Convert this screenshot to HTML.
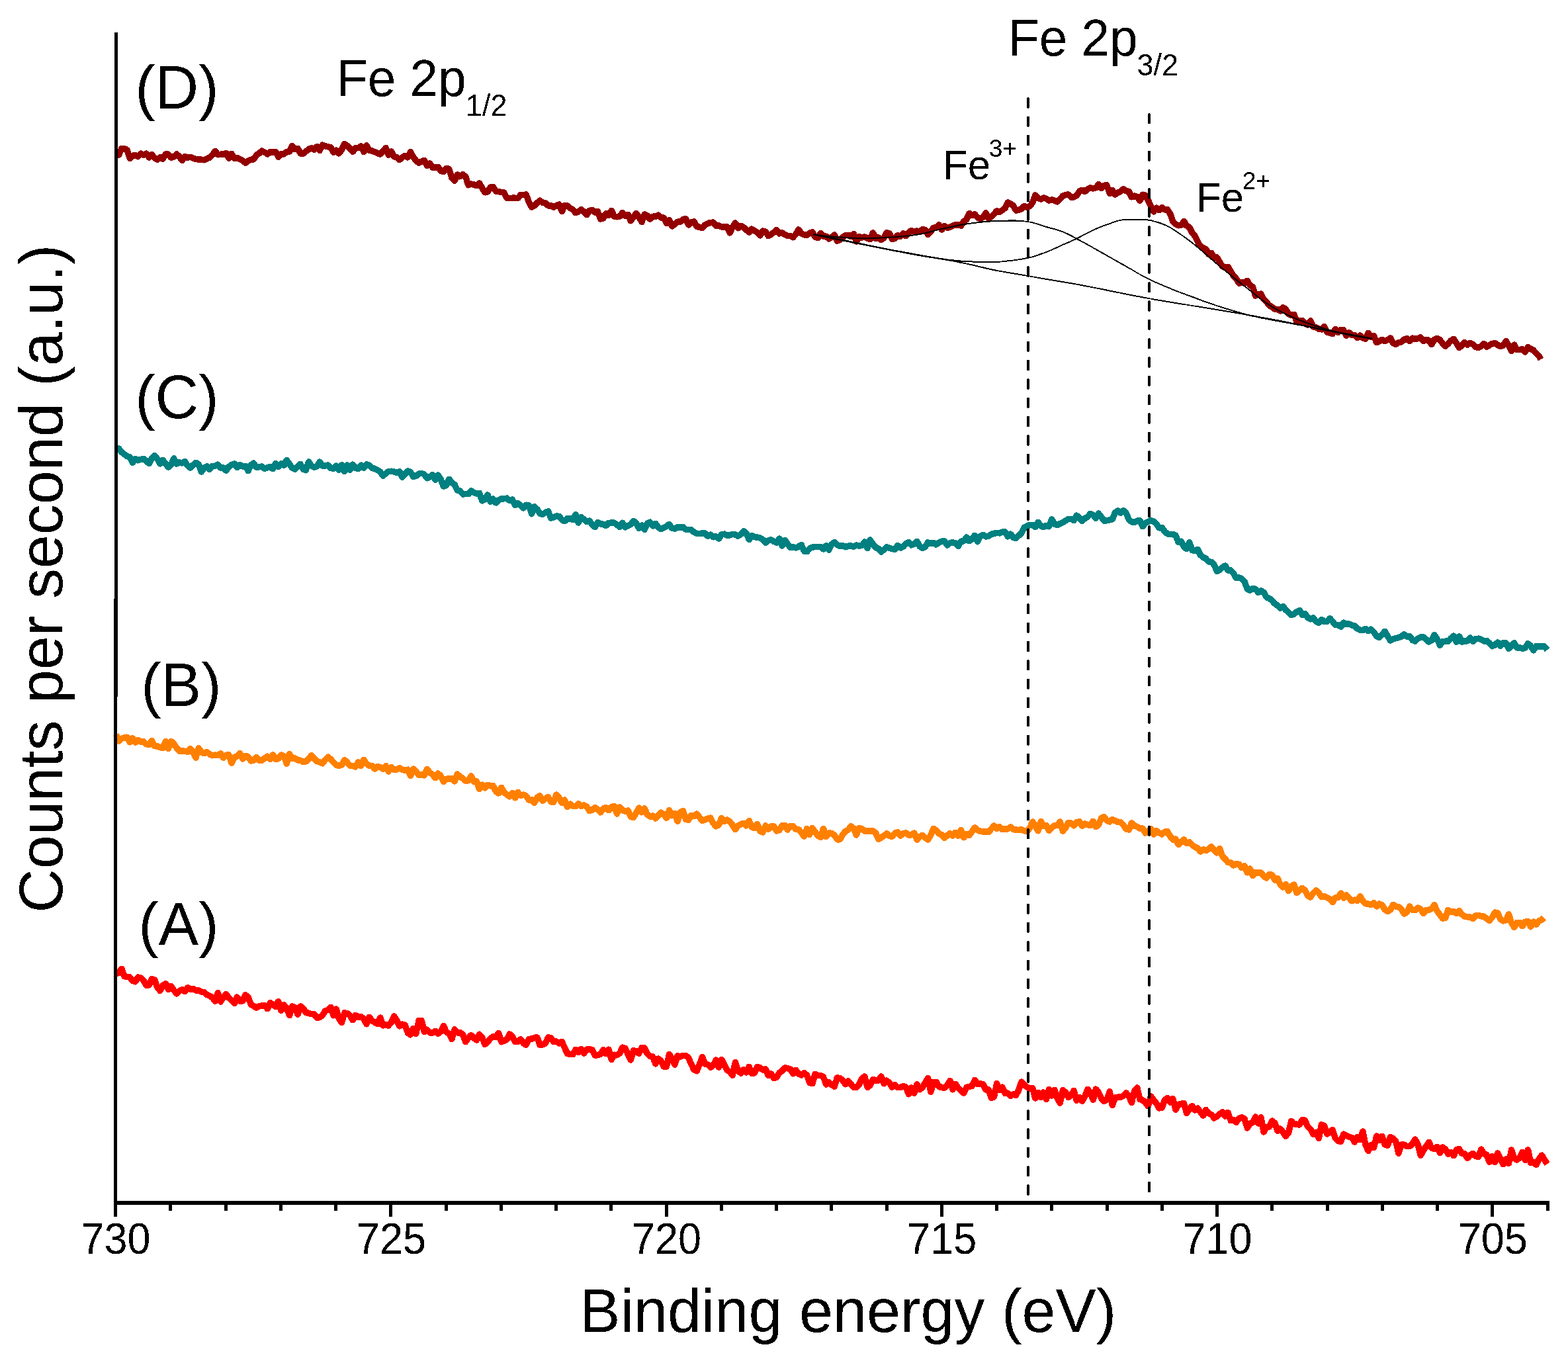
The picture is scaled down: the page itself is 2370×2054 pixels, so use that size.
<!DOCTYPE html>
<html lang="en">
<head>
<meta charset="utf-8">
<title>Fe 2p XPS spectra</title>
<style>
html,body{margin:0;padding:0;background:#fff;}
body{width:2370px;height:2054px;overflow:hidden;}
svg{display:block;}
text{font-family:"Liberation Sans",Arial,Helvetica,sans-serif;fill:#000;}
</style>
</head>
<body>
<svg width="2370" height="2054" viewBox="0 0 2370 2054" role="img" aria-label="Fe 2p XPS spectra">
<rect x="0" y="0" width="2370" height="2054" fill="#ffffff"/>
<defs><filter id="crisp" x="0" y="0" width="2370" height="2054" filterUnits="userSpaceOnUse" color-interpolation-filters="sRGB"><feComponentTransfer><feFuncA type="discrete" tableValues="0 1"/></feComponentTransfer></filter></defs>
<g filter="url(#crisp)">
<g id="curves">
<polyline points="175.4,1472.0 179.6,1470.1 183.7,1464.2 187.9,1475.5 192.0,1476.4 196.2,1476.9 200.4,1482.5 204.5,1483.8 208.7,1477.1 212.8,1478.2 217.0,1482.1 221.2,1489.3 225.3,1488.8 229.5,1479.4 233.6,1480.9 237.8,1492.2 242.0,1497.4 246.1,1489.4 250.3,1486.6 254.4,1495.5 258.6,1490.6 262.8,1496.5 266.9,1501.9 271.1,1497.9 275.2,1495.5 279.4,1498.6 283.6,1492.8 287.7,1495.0 291.9,1494.4 296.0,1496.9 300.2,1496.8 304.4,1499.2 308.5,1499.8 312.7,1503.4 316.8,1504.9 321.0,1507.9 325.2,1513.2 329.3,1500.6 333.5,1513.9 337.6,1507.6 341.8,1502.5 346.0,1508.4 350.1,1511.9 354.3,1516.5 358.4,1507.0 362.6,1513.0 366.8,1512.7 370.9,1503.7 375.1,1507.0 379.2,1517.9 383.4,1520.6 387.6,1523.0 391.7,1520.8 395.9,1520.0 400.0,1519.8 404.2,1524.8 408.4,1515.3 412.5,1518.8 416.7,1521.5 420.8,1513.5 425.0,1527.4 429.2,1518.8 433.3,1523.5 437.5,1534.8 441.6,1520.8 445.8,1522.5 450.0,1533.2 454.1,1520.9 458.3,1524.0 462.4,1530.3 466.6,1531.4 470.8,1532.6 474.9,1532.7 479.1,1538.4 483.2,1537.6 487.4,1534.7 491.6,1527.8 495.7,1526.5 499.9,1522.2 504.0,1534.8 508.2,1525.0 512.4,1539.8 516.5,1545.7 520.7,1530.8 524.8,1531.7 529.0,1534.7 533.2,1541.7 537.3,1534.2 541.5,1537.5 545.6,1536.7 549.8,1539.7 554.0,1547.8 558.1,1537.4 562.3,1542.4 566.4,1545.2 570.6,1547.7 574.8,1538.1 578.9,1550.0 583.1,1548.5 587.2,1550.3 591.4,1545.2 595.6,1535.9 599.7,1541.9 603.9,1550.9 608.0,1548.1 612.2,1549.2 616.4,1561.0 620.5,1563.8 624.7,1554.3 628.8,1562.6 633.0,1542.5 637.2,1542.5 641.3,1559.4 645.5,1556.3 649.6,1560.8 653.8,1561.1 658.0,1558.4 662.1,1562.4 666.3,1559.0 670.4,1550.5 674.6,1559.8 678.8,1562.5 682.9,1570.4 687.1,1555.8 691.2,1560.8 695.4,1560.2 699.6,1563.9 703.7,1574.7 707.9,1569.0 712.0,1564.5 716.2,1568.7 720.4,1572.1 724.5,1563.1 728.7,1567.7 732.8,1578.5 737.0,1575.3 741.2,1569.4 745.3,1566.6 749.5,1567.3 753.6,1561.3 757.8,1574.7 762.0,1573.1 766.1,1570.8 770.3,1562.9 774.4,1566.7 778.6,1574.7 782.8,1574.0 786.9,1570.6 791.1,1576.7 795.2,1579.3 799.4,1570.4 803.6,1570.1 807.7,1568.2 811.9,1567.9 816.0,1579.3 820.2,1579.0 824.4,1576.8 828.5,1568.0 832.7,1568.6 836.8,1574.5 841.0,1574.0 845.2,1576.9 849.3,1574.3 853.5,1583.7 857.6,1592.6 861.8,1593.3 866.0,1593.6 870.1,1586.3 874.3,1590.4 878.4,1585.2 882.6,1592.1 886.8,1586.2 890.9,1585.5 895.1,1586.6 899.2,1595.3 903.4,1594.6 907.6,1593.5 911.7,1586.8 915.9,1592.6 920.0,1586.2 924.2,1601.5 928.4,1594.2 932.5,1594.8 936.7,1592.1 940.8,1583.0 945.0,1584.2 949.2,1593.7 953.3,1602.0 957.5,1587.6 961.6,1588.8 965.8,1592.3 970.0,1583.3 974.1,1583.7 978.3,1592.6 982.4,1596.4 986.6,1596.9 990.8,1607.9 994.9,1600.0 999.1,1603.5 1003.2,1612.3 1007.4,1612.0 1011.6,1593.3 1015.7,1600.1 1019.9,1609.2 1024.0,1595.7 1028.2,1596.9 1032.4,1595.5 1036.5,1595.6 1040.7,1598.6 1044.8,1608.3 1049.0,1616.9 1053.2,1618.8 1057.3,1608.7 1061.5,1597.3 1065.6,1608.1 1069.8,1608.9 1074.0,1613.3 1078.1,1610.2 1082.3,1601.9 1086.4,1613.1 1090.6,1601.2 1094.8,1609.3 1098.9,1617.3 1103.1,1619.9 1107.2,1625.2 1111.4,1605.5 1115.6,1618.4 1119.7,1622.0 1123.9,1616.8 1128.0,1620.9 1132.2,1612.3 1136.4,1622.1 1140.5,1621.7 1144.7,1612.4 1148.8,1613.8 1153.0,1616.8 1157.2,1615.8 1161.3,1625.6 1165.5,1622.6 1169.6,1629.2 1173.8,1628.5 1178.0,1621.4 1182.1,1618.5 1186.3,1613.9 1190.4,1614.5 1194.6,1615.9 1198.8,1622.8 1202.9,1617.3 1207.1,1623.2 1211.2,1624.9 1215.4,1621.6 1219.6,1625.0 1223.7,1636.5 1227.9,1637.6 1232.0,1623.4 1236.2,1625.6 1240.4,1625.4 1244.5,1627.7 1248.7,1639.1 1252.8,1635.9 1257.0,1639.7 1261.2,1642.1 1265.3,1629.0 1269.5,1629.5 1273.6,1632.5 1277.8,1638.8 1282.0,1633.7 1286.1,1638.7 1290.3,1643.3 1294.4,1643.8 1298.6,1638.9 1302.8,1630.2 1306.9,1626.9 1311.1,1643.3 1315.2,1640.3 1319.4,1631.3 1323.6,1633.2 1327.7,1633.1 1331.9,1626.9 1336.0,1637.7 1340.2,1633.2 1344.4,1636.6 1348.5,1643.3 1352.7,1639.6 1356.8,1643.5 1361.0,1643.5 1365.2,1641.4 1369.3,1643.2 1373.5,1653.9 1377.6,1644.0 1381.8,1652.2 1386.0,1638.6 1390.1,1646.8 1394.3,1643.7 1398.4,1636.3 1402.6,1629.6 1406.8,1650.4 1410.9,1635.5 1415.1,1635.4 1419.2,1642.7 1423.4,1643.3 1427.6,1644.3 1431.7,1640.0 1435.9,1633.5 1440.0,1646.7 1444.2,1638.2 1448.4,1644.7 1452.5,1648.7 1456.7,1652.1 1460.8,1643.6 1465.0,1642.2 1469.2,1641.6 1473.3,1632.3 1477.5,1638.4 1481.6,1638.0 1485.8,1638.4 1490.0,1647.1 1494.1,1647.0 1498.3,1659.6 1502.4,1658.0 1506.6,1637.5 1510.8,1647.4 1514.9,1643.1 1519.1,1652.5 1523.2,1652.1 1527.4,1656.6 1531.6,1653.7 1535.7,1655.4 1539.9,1647.3 1544.0,1635.1 1548.2,1639.9 1552.4,1643.1 1556.5,1645.3 1560.7,1644.3 1564.8,1660.0 1569.0,1651.3 1573.2,1658.4 1577.3,1650.9 1581.5,1661.5 1585.6,1646.6 1589.8,1656.0 1594.0,1647.3 1598.1,1659.7 1602.3,1667.1 1606.4,1647.5 1610.6,1650.9 1614.8,1658.5 1618.9,1655.2 1623.1,1648.5 1627.2,1663.0 1631.4,1658.2 1635.6,1664.3 1639.7,1657.0 1643.9,1646.4 1648.0,1651.2 1652.2,1662.2 1656.4,1646.0 1660.5,1651.3 1664.7,1660.2 1668.8,1664.3 1673.0,1662.0 1677.2,1649.7 1681.3,1670.6 1685.5,1658.8 1689.6,1658.3 1693.8,1658.3 1698.0,1656.2 1702.1,1651.7 1706.3,1656.9 1710.4,1666.6 1714.6,1649.0 1718.8,1644.0 1722.9,1661.4 1727.1,1662.8 1731.2,1666.4 1735.4,1671.8 1739.6,1657.0 1743.7,1662.5 1747.9,1667.8 1752.0,1674.9 1756.2,1674.4 1760.4,1662.6 1764.5,1659.4 1768.7,1666.0 1772.8,1660.5 1777.0,1677.3 1781.2,1669.6 1785.3,1668.4 1789.5,1667.2 1793.6,1682.7 1797.8,1676.0 1802.0,1671.4 1806.1,1677.9 1810.3,1675.2 1814.4,1680.8 1818.6,1686.1 1822.8,1677.4 1826.9,1682.5 1831.1,1684.7 1835.2,1690.0 1839.4,1687.6 1843.6,1683.8 1847.7,1680.7 1851.9,1687.0 1856.0,1681.5 1860.2,1693.3 1864.4,1692.7 1868.5,1696.2 1872.7,1690.4 1876.8,1688.8 1881.0,1690.8 1885.2,1704.7 1889.3,1698.2 1893.5,1696.5 1897.6,1688.0 1901.8,1697.8 1906.0,1688.8 1910.1,1710.8 1914.3,1703.4 1918.4,1703.2 1922.6,1694.1 1926.8,1697.2 1930.9,1709.3 1935.1,1706.0 1939.2,1711.0 1943.4,1717.3 1947.6,1711.9 1951.7,1694.4 1955.9,1698.8 1960.0,1699.2 1964.2,1700.0 1968.4,1692.4 1972.5,1693.1 1976.7,1703.0 1980.8,1706.6 1985.0,1714.4 1989.2,1711.3 1993.3,1720.6 1997.5,1699.8 2001.6,1701.8 2005.8,1713.9 2010.0,1711.3 2014.1,1707.6 2018.3,1720.2 2022.4,1724.6 2026.6,1725.3 2030.8,1714.1 2034.9,1716.1 2039.1,1718.5 2043.2,1719.3 2047.4,1726.0 2051.6,1718.3 2055.7,1722.6 2059.9,1709.9 2064.0,1730.6 2068.2,1739.5 2072.4,1730.2 2076.5,1734.4 2080.7,1717.1 2084.8,1723.2 2089.0,1717.3 2093.2,1729.9 2097.3,1731.3 2101.5,1718.3 2105.6,1720.6 2109.8,1725.4 2114.0,1743.1 2118.1,1730.0 2122.3,1730.0 2126.4,1732.5 2130.6,1732.7 2134.8,1728.8 2138.9,1722.1 2143.1,1729.1 2147.2,1746.4 2151.4,1738.7 2155.6,1732.5 2159.7,1726.3 2163.9,1735.2 2168.0,1736.6 2172.2,1733.3 2176.4,1742.7 2180.5,1733.9 2184.7,1736.7 2188.8,1744.1 2193.0,1741.6 2197.2,1746.7 2201.3,1737.8 2205.5,1736.4 2209.6,1743.2 2213.8,1743.7 2218.0,1750.5 2222.1,1746.0 2226.3,1743.3 2230.4,1747.3 2234.6,1748.3 2238.8,1737.1 2242.9,1743.6 2247.1,1745.6 2251.2,1756.3 2255.4,1747.8 2259.6,1756.6 2263.7,1742.7 2267.9,1751.1 2272.0,1759.6 2276.2,1752.1 2280.4,1758.4 2284.5,1738.0 2288.7,1750.5 2292.8,1753.1 2297.0,1749.8 2301.2,1741.3 2305.3,1753.6 2309.5,1737.8 2313.6,1757.4 2317.8,1756.3 2322.0,1760.4 2326.1,1751.9 2330.3,1746.1 2334.4,1752.8 2338.6,1759.4" fill="none" stroke="#ff0000" stroke-width="9.5" stroke-linejoin="round" stroke-linecap="butt" />
<polyline points="175.4,1109.9 179.6,1120.0 183.7,1116.3 187.9,1115.0 192.0,1114.3 196.2,1121.8 200.4,1115.7 204.5,1122.0 208.7,1118.7 212.8,1121.0 217.0,1121.1 221.2,1124.9 225.3,1125.5 229.5,1119.4 233.6,1127.6 237.8,1127.9 242.0,1129.7 246.1,1130.6 250.3,1120.4 254.4,1131.7 258.6,1120.2 262.8,1124.0 266.9,1130.3 271.1,1135.0 275.2,1135.0 279.4,1135.2 283.6,1136.4 287.7,1131.4 291.9,1137.4 296.0,1145.4 300.2,1130.5 304.4,1136.9 308.5,1138.8 312.7,1136.5 316.8,1140.0 321.0,1141.8 325.2,1141.1 329.3,1141.6 333.5,1138.9 337.6,1145.3 341.8,1141.3 346.0,1140.9 350.1,1153.4 354.3,1144.3 358.4,1142.9 362.6,1138.4 366.8,1146.9 370.9,1142.3 375.1,1143.8 379.2,1150.0 383.4,1149.2 387.6,1144.4 391.7,1149.1 395.9,1149.0 400.0,1146.1 404.2,1143.1 408.4,1147.6 412.5,1140.9 416.7,1147.8 420.8,1146.5 425.0,1141.1 429.2,1142.9 433.3,1154.2 437.5,1139.4 441.6,1146.1 445.8,1145.9 450.0,1149.0 454.1,1149.2 458.3,1151.7 462.4,1150.9 466.6,1147.1 470.8,1141.6 474.9,1146.3 479.1,1150.6 483.2,1151.6 487.4,1153.8 491.6,1148.4 495.7,1144.2 499.9,1147.4 504.0,1152.2 508.2,1156.4 512.4,1157.5 516.5,1156.3 520.7,1148.7 524.8,1152.2 529.0,1157.2 533.2,1157.5 537.3,1159.0 541.5,1151.8 545.6,1157.5 549.8,1148.2 554.0,1154.3 558.1,1157.6 562.3,1157.2 566.4,1162.0 570.6,1158.6 574.8,1159.7 578.9,1162.3 583.1,1157.6 587.2,1166.1 591.4,1159.4 595.6,1163.7 599.7,1162.8 603.9,1160.7 608.0,1163.2 612.2,1164.5 616.4,1163.2 620.5,1172.6 624.7,1162.0 628.8,1165.9 633.0,1171.5 637.2,1170.5 641.3,1171.9 645.5,1162.5 649.6,1167.5 653.8,1170.8 658.0,1175.8 662.1,1168.9 666.3,1173.0 670.4,1181.6 674.6,1177.2 678.8,1177.2 682.9,1176.7 687.1,1180.9 691.2,1170.0 695.4,1173.7 699.6,1176.5 703.7,1180.3 707.9,1179.8 712.0,1172.8 716.2,1181.4 720.4,1181.0 724.5,1192.7 728.7,1186.1 732.8,1190.9 737.0,1186.2 741.2,1187.7 745.3,1187.6 749.5,1196.0 753.6,1198.9 757.8,1190.3 762.0,1197.7 766.1,1201.1 770.3,1203.9 774.4,1198.4 778.6,1205.8 782.8,1197.2 786.9,1202.4 791.1,1201.1 795.2,1202.9 799.4,1209.1 803.6,1208.5 807.7,1213.3 811.9,1205.4 816.0,1202.6 820.2,1210.1 824.4,1207.0 828.5,1204.6 832.7,1212.0 836.8,1212.3 841.0,1201.0 845.2,1205.9 849.3,1213.5 853.5,1209.1 857.6,1219.5 861.8,1215.3 866.0,1218.4 870.1,1218.5 874.3,1214.7 878.4,1218.3 882.6,1217.0 886.8,1219.0 890.9,1225.5 895.1,1224.2 899.2,1220.6 903.4,1223.1 907.6,1228.0 911.7,1222.0 915.9,1220.5 920.0,1224.7 924.2,1219.8 928.4,1218.3 932.5,1230.0 936.7,1220.0 940.8,1224.4 945.0,1226.3 949.2,1224.9 953.3,1234.5 957.5,1235.5 961.6,1228.6 965.8,1221.1 970.0,1227.8 974.1,1221.6 978.3,1231.2 982.4,1234.1 986.6,1233.1 990.8,1236.9 994.9,1232.7 999.1,1228.1 1003.2,1230.7 1007.4,1236.3 1011.6,1224.6 1015.7,1232.7 1019.9,1229.5 1024.0,1241.3 1028.2,1227.8 1032.4,1225.4 1036.5,1238.3 1040.7,1239.1 1044.8,1232.6 1049.0,1233.8 1053.2,1229.9 1057.3,1235.2 1061.5,1240.4 1065.6,1238.8 1069.8,1237.2 1074.0,1236.1 1078.1,1244.3 1082.3,1248.8 1086.4,1246.9 1090.6,1236.3 1094.8,1241.6 1098.9,1239.0 1103.1,1241.7 1107.2,1246.8 1111.4,1253.7 1115.6,1247.7 1119.7,1245.7 1123.9,1244.3 1128.0,1248.0 1132.2,1240.5 1136.4,1250.0 1140.5,1251.5 1144.7,1245.4 1148.8,1256.2 1153.0,1258.0 1157.2,1247.8 1161.3,1253.2 1165.5,1249.1 1169.6,1249.0 1173.8,1256.1 1178.0,1254.6 1182.1,1247.6 1186.3,1247.2 1190.4,1254.1 1194.6,1248.2 1198.8,1248.8 1202.9,1253.4 1207.1,1253.7 1211.2,1258.4 1215.4,1264.1 1219.6,1252.6 1223.7,1261.6 1227.9,1251.5 1232.0,1257.0 1236.2,1262.9 1240.4,1265.6 1244.5,1252.3 1248.7,1264.5 1252.8,1258.9 1257.0,1259.5 1261.2,1262.3 1265.3,1268.7 1269.5,1268.8 1273.6,1261.7 1277.8,1256.4 1282.0,1254.3 1286.1,1248.6 1290.3,1251.7 1294.4,1262.1 1298.6,1251.6 1302.8,1252.7 1306.9,1256.2 1311.1,1256.3 1315.2,1255.8 1319.4,1255.7 1323.6,1259.0 1327.7,1268.2 1331.9,1266.2 1336.0,1263.2 1340.2,1260.0 1344.4,1263.5 1348.5,1264.2 1352.7,1259.1 1356.8,1257.9 1361.0,1263.2 1365.2,1259.4 1369.3,1258.9 1373.5,1262.0 1377.6,1261.7 1381.8,1259.0 1386.0,1269.3 1390.1,1264.7 1394.3,1262.3 1398.4,1266.4 1402.6,1269.1 1406.8,1262.1 1410.9,1252.3 1415.1,1254.8 1419.2,1259.9 1423.4,1261.6 1427.6,1266.5 1431.7,1262.8 1435.9,1259.5 1440.0,1263.1 1444.2,1258.2 1448.4,1263.1 1452.5,1254.5 1456.7,1265.9 1460.8,1260.3 1465.0,1262.5 1469.2,1256.7 1473.3,1250.8 1477.5,1254.7 1481.6,1256.2 1485.8,1257.1 1490.0,1256.8 1494.1,1257.5 1498.3,1252.8 1502.4,1248.0 1506.6,1252.3 1510.8,1249.5 1514.9,1253.6 1519.1,1253.0 1523.2,1252.9 1527.4,1250.0 1531.6,1253.8 1535.7,1253.9 1539.9,1254.4 1544.0,1253.7 1548.2,1255.7 1552.4,1256.5 1556.5,1251.7 1560.7,1242.1 1564.8,1247.9 1569.0,1255.7 1573.2,1241.5 1577.3,1248.3 1581.5,1247.4 1585.6,1255.2 1589.8,1251.1 1594.0,1247.6 1598.1,1247.4 1602.3,1242.0 1606.4,1256.0 1610.6,1251.2 1614.8,1243.3 1618.9,1244.0 1623.1,1248.0 1627.2,1242.7 1631.4,1241.8 1635.6,1248.2 1639.7,1244.8 1643.9,1246.5 1648.0,1247.7 1652.2,1241.2 1656.4,1249.8 1660.5,1246.5 1664.7,1236.5 1668.8,1234.4 1673.0,1240.4 1677.2,1241.9 1681.3,1238.4 1685.5,1240.8 1689.6,1242.1 1693.8,1242.7 1698.0,1246.9 1702.1,1252.9 1706.3,1254.0 1710.4,1243.9 1714.6,1248.2 1718.8,1249.5 1722.9,1252.3 1727.1,1252.0 1731.2,1259.0 1735.4,1257.2 1739.6,1252.5 1743.7,1261.0 1747.9,1255.5 1752.0,1258.8 1756.2,1260.9 1760.4,1257.3 1764.5,1256.8 1768.7,1264.1 1772.8,1269.1 1777.0,1268.1 1781.2,1276.4 1785.3,1273.1 1789.5,1269.0 1793.6,1274.7 1797.8,1272.9 1802.0,1277.3 1806.1,1280.2 1810.3,1281.8 1814.4,1287.2 1818.6,1283.7 1822.8,1285.5 1826.9,1283.2 1831.1,1279.7 1835.2,1285.0 1839.4,1288.9 1843.6,1282.5 1847.7,1294.1 1851.9,1298.3 1856.0,1303.4 1860.2,1303.4 1864.4,1307.9 1868.5,1305.7 1872.7,1306.2 1876.8,1311.6 1881.0,1308.8 1885.2,1318.8 1889.3,1312.8 1893.5,1323.6 1897.6,1318.3 1901.8,1319.2 1906.0,1319.0 1910.1,1324.3 1914.3,1327.0 1918.4,1321.8 1922.6,1322.2 1926.8,1330.1 1930.9,1327.3 1935.1,1337.1 1939.2,1340.9 1943.4,1336.4 1947.6,1346.6 1951.7,1339.7 1955.9,1336.9 1960.0,1349.4 1964.2,1345.7 1968.4,1342.3 1972.5,1345.9 1976.7,1353.8 1980.8,1355.9 1985.0,1349.7 1989.2,1345.9 1993.3,1349.4 1997.5,1355.7 2001.6,1354.8 2005.8,1356.7 2010.0,1358.5 2014.1,1363.6 2018.3,1357.0 2022.4,1356.6 2026.6,1350.1 2030.8,1357.2 2034.9,1352.6 2039.1,1357.2 2043.2,1361.7 2047.4,1360.1 2051.6,1361.4 2055.7,1354.8 2059.9,1361.8 2064.0,1365.7 2068.2,1366.2 2072.4,1367.8 2076.5,1364.6 2080.7,1369.9 2084.8,1366.1 2089.0,1368.1 2093.2,1374.6 2097.3,1377.6 2101.5,1374.9 2105.6,1367.2 2109.8,1370.0 2114.0,1370.6 2118.1,1374.2 2122.3,1381.1 2126.4,1379.1 2130.6,1369.9 2134.8,1375.5 2138.9,1375.7 2143.1,1372.1 2147.2,1373.9 2151.4,1380.4 2155.6,1375.8 2159.7,1375.2 2163.9,1373.4 2168.0,1367.6 2172.2,1377.0 2176.4,1382.5 2180.5,1388.1 2184.7,1387.4 2188.8,1375.4 2193.0,1378.1 2197.2,1377.3 2201.3,1380.4 2205.5,1376.3 2209.6,1382.2 2213.8,1385.2 2218.0,1385.9 2222.1,1385.9 2226.3,1388.5 2230.4,1384.0 2234.6,1383.2 2238.8,1384.9 2242.9,1384.9 2247.1,1388.4 2251.2,1391.4 2255.4,1386.3 2259.6,1379.1 2263.7,1380.0 2267.9,1389.5 2272.0,1391.9 2276.2,1390.9 2280.4,1381.9 2284.5,1394.6 2288.7,1401.6 2292.8,1394.4 2297.0,1394.3 2301.2,1399.8 2305.3,1393.2 2309.5,1392.4 2313.6,1400.7 2317.8,1393.1 2322.0,1397.4 2326.1,1391.8 2330.3,1390.2 2333.7,1387.1" fill="none" stroke="#ff8000" stroke-width="9.5" stroke-linejoin="round" stroke-linecap="butt" />
<polyline points="175.4,676.8 179.6,678.1 183.7,683.3 187.9,686.6 192.0,689.7 196.2,690.6 200.4,699.3 204.5,693.7 208.7,695.8 212.8,694.3 217.0,693.4 221.2,696.6 225.3,700.5 229.5,692.5 233.6,688.4 237.8,693.7 242.0,700.8 246.1,695.5 250.3,700.8 254.4,706.2 258.6,702.5 262.8,692.9 266.9,700.9 271.1,698.9 275.2,700.0 279.4,697.6 283.6,703.8 287.7,707.1 291.9,702.6 296.0,699.3 300.2,701.7 304.4,713.0 308.5,707.0 312.7,704.8 316.8,709.6 321.0,704.3 325.2,704.4 329.3,702.1 333.5,707.1 337.6,706.9 341.8,711.3 346.0,705.4 350.1,702.5 354.3,700.8 358.4,706.5 362.6,702.7 366.8,704.8 370.9,704.4 375.1,711.7 379.2,702.6 383.4,700.2 387.6,706.3 391.7,705.7 395.9,704.9 400.0,708.3 404.2,706.8 408.4,705.6 412.5,708.6 416.7,700.4 420.8,705.5 425.0,700.8 429.2,703.5 433.3,695.5 437.5,701.1 441.6,707.3 445.8,709.3 450.0,705.0 454.1,701.4 458.3,709.4 462.4,710.9 466.6,698.0 470.8,703.9 474.9,706.2 479.1,704.8 483.2,698.0 487.4,703.9 491.6,703.9 495.7,703.0 499.9,707.6 504.0,708.1 508.2,704.1 512.4,710.4 516.5,702.8 520.7,712.6 524.8,702.9 529.0,710.3 533.2,702.1 537.3,707.4 541.5,708.6 545.6,703.1 549.8,707.2 554.0,701.7 558.1,703.4 562.3,707.1 566.4,708.4 570.6,710.7 574.8,713.1 578.9,719.0 583.1,715.5 587.2,712.5 591.4,712.3 595.6,712.9 599.7,714.3 603.9,712.6 608.0,721.2 612.2,716.7 616.4,712.0 620.5,713.4 624.7,720.4 628.8,719.5 633.0,716.1 637.2,715.4 641.3,716.9 645.5,722.8 649.6,720.9 653.8,717.5 658.0,725.1 662.1,718.0 666.3,724.5 670.4,735.2 674.6,733.5 678.8,724.2 682.9,729.7 687.1,732.3 691.2,741.1 695.4,741.9 699.6,747.0 703.7,746.5 707.9,746.6 712.0,741.7 716.2,744.7 720.4,746.1 724.5,745.4 728.7,756.9 732.8,754.7 737.0,747.9 741.2,758.2 745.3,754.1 749.5,759.9 753.6,755.8 757.8,753.9 762.0,753.8 766.1,753.1 770.3,756.6 774.4,754.9 778.6,763.5 782.8,760.7 786.9,764.2 791.1,767.9 795.2,763.2 799.4,764.0 803.6,776.8 807.7,765.8 811.9,769.5 816.0,776.3 820.2,777.4 824.4,774.6 828.5,772.8 832.7,782.9 836.8,782.1 841.0,779.9 845.2,780.5 849.3,785.5 853.5,787.7 857.6,783.8 861.8,784.0 866.0,785.7 870.1,777.4 874.3,790.1 878.4,781.4 882.6,785.0 886.8,788.6 890.9,787.1 895.1,793.2 899.2,796.5 903.4,789.6 907.6,791.7 911.7,792.3 915.9,794.5 920.0,790.4 924.2,789.9 928.4,790.3 932.5,793.0 936.7,796.5 940.8,790.2 945.0,796.9 949.2,794.5 953.3,792.9 957.5,787.2 961.6,791.0 965.8,798.5 970.0,794.0 974.1,800.4 978.3,791.3 982.4,789.2 986.6,794.9 990.8,791.2 994.9,797.0 999.1,799.7 1003.2,797.8 1007.4,795.5 1011.6,792.4 1015.7,798.4 1019.9,799.2 1024.0,796.8 1028.2,797.2 1032.4,796.5 1036.5,800.1 1040.7,800.6 1044.8,800.8 1049.0,804.4 1053.2,806.4 1057.3,806.5 1061.5,806.0 1065.6,805.9 1069.8,810.3 1074.0,808.2 1078.1,811.8 1082.3,810.7 1086.4,814.2 1090.6,807.9 1094.8,807.1 1098.9,809.2 1103.1,808.9 1107.2,807.4 1111.4,808.0 1115.6,810.2 1119.7,807.7 1123.9,802.7 1128.0,806.0 1132.2,815.7 1136.4,809.6 1140.5,811.5 1144.7,812.2 1148.8,813.1 1153.0,815.5 1157.2,820.2 1161.3,817.1 1165.5,815.7 1169.6,818.4 1173.8,820.1 1178.0,813.9 1182.1,824.9 1186.3,816.3 1190.4,822.1 1194.6,827.6 1198.8,826.8 1202.9,828.0 1207.1,826.1 1211.2,823.5 1215.4,832.9 1219.6,833.8 1223.7,829.0 1227.9,827.1 1232.0,826.6 1236.2,826.4 1240.4,826.4 1244.5,829.9 1248.7,824.8 1252.8,831.3 1257.0,822.6 1261.2,819.6 1265.3,823.3 1269.5,825.7 1273.6,824.7 1277.8,826.8 1282.0,825.2 1286.1,824.9 1290.3,826.2 1294.4,824.0 1298.6,825.1 1302.8,824.5 1306.9,818.9 1311.1,828.6 1315.2,816.1 1319.4,822.4 1323.6,827.6 1327.7,829.0 1331.9,833.9 1336.0,830.8 1340.2,826.7 1344.4,828.2 1348.5,829.6 1352.7,830.2 1356.8,824.4 1361.0,828.0 1365.2,826.3 1369.3,821.7 1373.5,819.3 1377.6,824.0 1381.8,822.2 1386.0,818.3 1390.1,825.8 1394.3,828.4 1398.4,826.5 1402.6,819.9 1406.8,821.6 1410.9,820.3 1415.1,823.0 1419.2,820.0 1423.4,818.2 1427.6,817.9 1431.7,824.0 1435.9,820.6 1440.0,819.7 1444.2,820.9 1448.4,825.7 1452.5,817.9 1456.7,817.9 1460.8,811.9 1465.0,817.7 1469.2,814.7 1473.3,809.2 1477.5,818.9 1481.6,810.6 1485.8,808.2 1490.0,811.0 1494.1,810.4 1498.3,807.4 1502.4,806.3 1506.6,805.3 1510.8,805.9 1514.9,804.2 1519.1,803.7 1523.2,810.9 1527.4,807.0 1531.6,812.5 1535.7,813.3 1539.9,809.3 1544.0,805.8 1548.2,797.4 1552.4,795.0 1556.5,793.5 1560.7,793.6 1564.8,796.7 1569.0,789.3 1573.2,794.9 1577.3,796.5 1581.5,794.3 1585.6,795.6 1589.8,784.9 1594.0,792.1 1598.1,793.4 1602.3,791.4 1606.4,789.8 1610.6,786.9 1614.8,784.5 1618.9,784.2 1623.1,786.6 1627.2,779.0 1631.4,782.2 1635.6,787.5 1639.7,783.5 1643.9,781.3 1648.0,776.4 1652.2,778.2 1656.4,783.1 1660.5,776.1 1664.7,781.6 1668.8,787.1 1673.0,786.7 1677.2,786.0 1681.3,785.0 1685.5,774.5 1689.6,772.0 1693.8,775.2 1698.0,771.6 1702.1,775.2 1706.3,785.5 1710.4,788.7 1714.6,789.4 1718.8,787.1 1722.9,786.8 1727.1,795.8 1731.2,790.3 1735.4,788.6 1739.6,786.9 1743.7,788.1 1747.9,791.8 1752.0,797.7 1756.2,797.2 1760.4,803.2 1764.5,806.8 1768.7,807.7 1772.8,807.3 1777.0,809.5 1781.2,819.7 1785.3,818.1 1789.5,826.6 1793.6,829.5 1797.8,819.6 1802.0,831.7 1806.1,832.0 1810.3,830.6 1814.4,838.9 1818.6,842.4 1822.8,844.3 1826.9,849.0 1831.1,849.5 1835.2,853.7 1839.4,863.3 1843.6,861.5 1847.7,857.6 1851.9,854.9 1856.0,862.1 1860.2,862.1 1864.4,866.5 1868.5,873.8 1872.7,872.9 1876.8,874.4 1881.0,878.9 1885.2,890.0 1889.3,892.3 1893.5,889.6 1897.6,890.1 1901.8,895.5 1906.0,892.7 1910.1,895.2 1914.3,902.8 1918.4,904.2 1922.6,907.7 1926.8,912.1 1930.9,915.0 1935.1,919.1 1939.2,916.5 1943.4,921.8 1947.6,925.6 1951.7,929.6 1955.9,928.2 1960.0,924.6 1964.2,922.4 1968.4,929.4 1972.5,927.6 1976.7,933.5 1980.8,935.8 1985.0,933.7 1989.2,939.4 1993.3,941.2 1997.5,936.4 2001.6,939.5 2005.8,939.4 2010.0,934.5 2014.1,939.1 2018.3,944.5 2022.4,944.7 2026.6,947.2 2030.8,941.1 2034.9,943.5 2039.1,942.9 2043.2,944.9 2047.4,946.0 2051.6,949.9 2055.7,952.1 2059.9,952.7 2064.0,950.4 2068.2,953.7 2072.4,951.2 2076.5,955.4 2080.7,961.7 2084.8,963.2 2089.0,959.2 2093.2,954.3 2097.3,961.3 2101.5,968.1 2105.6,965.8 2109.8,964.6 2114.0,963.7 2118.1,962.1 2122.3,958.9 2126.4,962.1 2130.6,961.3 2134.8,967.4 2138.9,969.3 2143.1,965.2 2147.2,962.9 2151.4,963.1 2155.6,966.4 2159.7,970.1 2163.9,967.6 2168.0,959.4 2172.2,965.7 2176.4,975.2 2180.5,969.7 2184.7,969.3 2188.8,969.3 2193.0,964.7 2197.2,961.1 2201.3,970.2 2205.5,961.8 2209.6,970.1 2213.8,969.1 2218.0,968.7 2222.1,963.9 2226.3,969.5 2230.4,965.6 2234.6,965.1 2238.8,966.5 2242.9,969.0 2247.1,968.3 2251.2,971.8 2255.4,976.6 2259.6,974.7 2263.7,970.9 2267.9,976.4 2272.0,971.7 2276.2,971.7 2280.4,980.3 2284.5,975.8 2288.7,971.8 2292.8,979.0 2297.0,978.7 2301.2,980.5 2305.3,979.1 2309.5,972.7 2313.6,976.2 2317.8,983.0 2322.0,976.6 2326.1,976.8 2330.3,976.7 2334.4,977.1 2338.6,982.2" fill="none" stroke="#008080" stroke-width="9.5" stroke-linejoin="round" stroke-linecap="butt" />
<polyline points="175.4,233.7 179.6,234.1 183.7,224.6 187.9,224.6 192.0,226.3 196.2,239.4 200.4,235.1 204.5,234.6 208.7,236.6 212.8,232.1 217.0,234.3 221.2,232.1 225.3,237.9 229.5,233.8 233.6,238.5 237.8,241.4 242.0,237.9 246.1,240.1 250.3,233.1 254.4,233.1 258.6,238.3 262.8,237.0 266.9,232.8 271.1,236.6 275.2,242.5 279.4,236.5 283.6,238.2 287.7,237.2 291.9,239.3 296.0,240.3 300.2,241.2 304.4,241.2 308.5,241.9 312.7,240.0 316.8,238.2 321.0,234.2 325.2,228.4 329.3,233.7 333.5,233.2 337.6,233.3 341.8,231.2 346.0,239.4 350.1,232.3 354.3,239.6 358.4,238.6 362.6,240.7 366.8,242.7 370.9,246.2 375.1,243.4 379.2,241.2 383.4,241.0 387.6,234.4 391.7,231.7 395.9,228.1 400.0,230.0 404.2,232.9 408.4,229.7 412.5,229.9 416.7,229.4 420.8,237.3 425.0,232.7 429.2,232.9 433.3,229.4 437.5,229.1 441.6,220.5 445.8,225.5 450.0,224.3 454.1,232.0 458.3,232.2 462.4,228.8 466.6,225.8 470.8,223.6 474.9,226.2 479.1,221.4 483.2,227.5 487.4,219.1 491.6,220.8 495.7,221.8 499.9,222.9 504.0,230.1 508.2,227.1 512.4,232.0 516.5,226.0 520.7,217.4 524.8,220.4 529.0,224.6 533.2,229.3 537.3,223.8 541.5,223.6 545.6,220.8 549.8,229.5 554.0,219.9 558.1,227.3 562.3,228.0 566.4,229.6 570.6,231.5 574.8,233.0 578.9,228.7 583.1,223.4 587.2,234.2 591.4,228.9 595.6,236.8 599.7,237.7 603.9,241.5 608.0,237.9 612.2,235.4 616.4,238.0 620.5,229.4 624.7,237.4 628.8,242.7 633.0,246.1 637.2,244.5 641.3,242.2 645.5,250.6 649.6,247.1 653.8,253.2 658.0,253.0 662.1,252.3 666.3,258.4 670.4,259.4 674.6,254.4 678.8,255.4 682.9,269.0 687.1,273.1 691.2,263.9 695.4,266.7 699.6,263.6 703.7,267.1 707.9,279.8 712.0,278.0 716.2,279.1 720.4,280.5 724.5,277.1 728.7,283.9 732.8,290.8 737.0,289.9 741.2,282.9 745.3,282.2 749.5,289.0 753.6,289.4 757.8,290.6 762.0,291.2 766.1,299.3 770.3,299.4 774.4,299.3 778.6,299.3 782.8,299.7 786.9,294.3 791.1,294.4 795.2,294.1 799.4,305.4 803.6,313.1 807.7,310.9 811.9,306.7 816.0,303.2 820.2,306.3 824.4,306.9 828.5,311.0 832.7,310.3 836.8,313.1 841.0,310.6 845.2,308.9 849.3,319.4 853.5,310.3 857.6,311.0 861.8,314.5 866.0,316.9 870.1,321.7 874.3,320.0 878.4,316.5 882.6,319.9 886.8,324.8 890.9,318.3 895.1,317.5 899.2,320.9 903.4,319.3 907.6,330.9 911.7,329.8 915.9,322.8 920.0,325.4 924.2,318.3 928.4,327.1 932.5,327.8 936.7,327.1 940.8,321.5 945.0,326.3 949.2,324.3 953.3,333.8 957.5,328.2 961.6,322.6 965.8,328.0 970.0,335.5 974.1,324.0 978.3,325.6 982.4,331.1 986.6,327.3 990.8,327.3 994.9,325.1 999.1,328.9 1003.2,329.1 1007.4,337.5 1011.6,332.4 1015.7,341.9 1019.9,339.0 1024.0,335.2 1028.2,335.1 1032.4,331.6 1036.5,330.7 1040.7,339.9 1044.8,335.8 1049.0,334.8 1053.2,342.6 1057.3,343.2 1061.5,344.6 1065.6,339.9 1069.8,337.6 1074.0,336.4 1078.1,336.1 1082.3,341.4 1086.4,340.9 1090.6,342.8 1094.8,343.1 1098.9,342.6 1103.1,351.9 1107.2,343.5 1111.4,337.1 1115.6,344.8 1119.7,341.3 1123.9,343.4 1128.0,347.5 1132.2,351.1 1136.4,346.2 1140.5,348.7 1144.7,351.4 1148.8,355.9 1153.0,349.0 1157.2,350.2 1161.3,356.6 1165.5,354.4 1169.6,351.1 1173.8,347.5 1178.0,353.0 1182.1,351.7 1186.3,354.6 1190.4,356.4 1194.6,356.7 1198.8,358.7 1202.9,353.7 1207.1,347.0 1211.2,352.7 1215.4,354.8 1219.6,355.4 1223.7,352.4 1227.9,350.9 1232.0,358.2 1236.2,359.6 1240.4,352.3 1244.5,357.1 1248.7,357.2 1252.8,360.9 1257.0,358.4 1261.2,355.0 1265.3,364.2 1269.5,362.3 1273.6,358.4 1277.8,355.7 1282.0,355.2 1286.1,357.7 1290.3,353.5 1294.4,365.0 1298.6,357.8 1302.8,358.8 1306.9,357.9 1311.1,360.3 1315.2,361.6 1319.4,351.9 1323.6,360.4 1327.7,359.0 1331.9,362.6 1336.0,359.4 1340.2,351.7 1344.4,352.8 1348.5,361.5 1352.7,360.2 1356.8,355.7 1361.0,357.3 1365.2,352.8 1369.3,356.7 1373.5,351.5 1377.6,348.4 1381.8,350.6 1386.0,349.0 1390.1,350.3 1394.3,346.5 1398.4,347.6 1402.6,354.7 1406.8,350.0 1410.9,344.3 1415.1,344.0 1419.2,339.7 1423.4,347.1 1427.6,341.7 1431.7,344.3 1435.9,343.2 1440.0,341.3 1444.2,339.8 1448.4,339.4 1452.5,341.2 1456.7,334.6 1460.8,331.8 1465.0,322.4 1469.2,325.3 1473.3,323.8 1477.5,328.8 1481.6,330.4 1485.8,328.5 1490.0,321.8 1494.1,329.7 1498.3,327.7 1502.4,323.8 1506.6,318.8 1510.8,320.3 1514.9,317.7 1519.1,314.7 1523.2,305.9 1527.4,308.0 1531.6,310.9 1535.7,318.0 1539.9,317.5 1544.0,315.6 1548.2,311.3 1552.4,313.6 1556.5,311.7 1560.7,306.3 1564.8,294.9 1569.0,299.4 1573.2,301.0 1577.3,298.9 1581.5,300.5 1585.6,303.0 1589.8,301.8 1594.0,303.3 1598.1,304.9 1602.3,300.9 1606.4,296.2 1610.6,294.5 1614.8,294.0 1618.9,298.2 1623.1,297.7 1627.2,295.8 1631.4,289.2 1635.6,287.3 1639.7,289.5 1643.9,286.0 1648.0,283.8 1652.2,285.0 1656.4,284.0 1660.5,278.8 1664.7,284.6 1668.8,280.3 1673.0,280.1 1677.2,292.5 1681.3,287.3 1685.5,294.2 1689.6,291.0 1693.8,289.3 1698.0,285.7 1702.1,288.6 1706.3,289.5 1710.4,297.9 1714.6,296.0 1718.8,297.2 1722.9,303.4 1727.1,294.2 1731.2,295.3 1735.4,302.5 1739.6,312.2 1743.7,319.8 1747.9,314.0 1752.0,317.8 1756.2,313.5 1760.4,316.9 1764.5,316.4 1768.7,323.1 1772.8,334.9 1777.0,339.0 1781.2,340.8 1785.3,340.2 1789.5,334.2 1793.6,341.3 1797.8,343.4 1802.0,352.1 1806.1,356.5 1810.3,365.3 1814.4,372.3 1818.6,374.8 1822.8,376.6 1826.9,384.4 1831.1,382.4 1835.2,390.0 1839.4,389.1 1843.6,396.2 1847.7,402.8 1851.9,403.9 1856.0,403.3 1860.2,410.1 1864.4,417.0 1868.5,421.1 1872.7,428.2 1876.8,426.9 1881.0,427.9 1885.2,424.2 1889.3,431.1 1893.5,433.8 1897.6,447.0 1901.8,444.7 1906.0,444.1 1910.1,452.3 1914.3,456.3 1918.4,461.6 1922.6,464.1 1926.8,467.0 1930.9,467.4 1935.1,470.0 1939.2,464.9 1943.4,467.4 1947.6,474.5 1951.7,476.6 1955.9,475.4 1960.0,486.0 1964.2,484.7 1968.4,484.3 1972.5,488.7 1976.7,491.2 1980.8,484.8 1985.0,494.1 1989.2,494.6 1993.3,497.3 1997.5,497.9 2001.6,493.5 2005.8,502.1 2010.0,503.3 2014.1,504.7 2018.3,497.5 2022.4,502.3 2026.6,498.6 2030.8,498.7 2034.9,507.4 2039.1,502.6 2043.2,506.5 2047.4,506.2 2051.6,510.4 2055.7,507.2 2059.9,510.9 2064.0,512.4 2068.2,503.2 2072.4,509.2 2076.5,507.7 2080.7,517.6 2084.8,515.8 2089.0,513.2 2093.2,515.7 2097.3,513.8 2101.5,510.8 2105.6,518.7 2109.8,520.5 2114.0,517.7 2118.1,517.1 2122.3,513.2 2126.4,511.7 2130.6,515.8 2134.8,511.0 2138.9,512.5 2143.1,511.6 2147.2,509.9 2151.4,515.2 2155.6,513.7 2159.7,514.3 2163.9,520.5 2168.0,513.4 2172.2,511.4 2176.4,513.7 2180.5,519.3 2184.7,523.4 2188.8,519.5 2193.0,514.7 2197.2,512.4 2201.3,518.4 2205.5,525.6 2209.6,522.0 2213.8,517.6 2218.0,521.1 2222.1,518.4 2226.3,520.3 2230.4,524.7 2234.6,525.5 2238.8,523.4 2242.9,519.5 2247.1,523.9 2251.2,521.9 2255.4,519.3 2259.6,518.5 2263.7,521.3 2267.9,523.4 2272.0,522.2 2276.2,515.5 2280.4,522.4 2284.5,530.4 2288.7,521.1 2292.8,528.5 2297.0,528.8 2301.2,527.6 2305.3,532.0 2309.5,524.7 2313.6,527.3 2317.8,529.2 2322.0,534.2 2326.1,538.1 2329.0,543.2" fill="none" stroke="#940000" stroke-width="9.5" stroke-linejoin="round" stroke-linecap="butt" />
</g>
<g id="fits">
<polyline points="1229.7,354.3 1235.7,355.6 1241.7,356.9 1247.7,358.1 1253.7,359.4 1259.7,360.6 1265.7,361.9 1271.7,363.1 1277.7,364.3 1283.7,365.5 1289.7,366.7 1295.7,367.9 1301.7,369.1 1307.7,370.3 1313.7,371.4 1319.7,372.6 1325.7,373.7 1331.7,374.8 1337.7,376.0 1343.7,377.1 1349.7,378.2 1355.7,379.3 1361.7,380.3 1367.7,381.4 1373.7,382.5 1379.7,383.6 1385.7,384.7 1391.7,385.8 1397.7,386.9 1403.7,388.0 1409.7,389.1 1415.7,390.1 1421.7,391.2 1427.7,392.2 1433.7,393.3 1439.7,394.4 1445.7,395.6 1451.7,396.7 1457.7,397.9 1463.7,399.1 1469.7,400.5 1475.7,401.9 1481.7,403.4 1487.7,404.8 1493.7,406.2 1499.7,407.5 1505.7,408.7 1511.7,409.9 1517.7,410.9 1523.7,412.0 1529.7,413.0 1535.7,414.0 1541.7,415.0 1547.7,416.0 1553.7,417.1 1559.7,418.1 1565.7,419.1 1571.7,420.2 1577.7,421.2 1583.7,422.2 1589.7,423.2 1595.7,424.2 1601.7,425.2 1607.7,426.2 1613.7,427.3 1619.7,428.3 1625.7,429.4 1631.7,430.5 1637.7,431.6 1643.7,432.8 1649.7,433.9 1655.7,435.1 1661.7,436.3 1667.7,437.5 1673.7,438.7 1679.7,440.0 1685.7,441.2 1691.7,442.4 1697.7,443.6 1703.7,444.8 1709.7,446.0 1715.7,447.2 1721.7,448.3 1727.7,449.5 1733.7,450.6 1739.7,451.6 1745.7,452.7 1751.7,453.7 1757.7,454.8 1763.7,455.8 1769.7,456.8 1775.7,457.7 1781.7,458.7 1787.7,459.7 1793.7,460.6 1799.7,461.6 1805.7,462.6 1811.7,463.5 1817.7,464.5 1823.7,465.5 1829.7,466.5 1835.7,467.5 1841.7,468.5 1847.7,469.5 1853.7,470.5 1859.7,471.5 1865.7,472.5 1871.7,473.6 1877.7,474.6 1883.7,475.6 1889.7,476.7 1895.7,477.7 1901.7,478.8 1907.7,479.9 1913.7,480.9 1919.7,482.0 1925.7,483.2 1931.7,484.3 1937.7,485.5 1943.7,486.7 1949.7,487.9 1955.7,489.1 1961.7,490.4 1967.7,491.6 1973.7,492.8 1979.7,494.0 1985.7,495.3 1991.7,496.4 1997.7,497.6 2003.7,498.8 2009.7,499.9 2015.7,501.0 2021.7,502.2 2027.7,503.3 2033.7,504.4 2039.7,505.5 2045.7,506.6 2051.7,507.7 2057.7,508.8 2063.7,509.9 2069.7,510.9 2074.0,511.7" fill="none" stroke="#000" stroke-width="1.9" stroke-linejoin="round" stroke-linecap="butt" />
<polyline points="1229.7,354.3 1235.7,355.1 1241.7,355.9 1247.7,356.7 1253.7,357.3 1259.7,357.9 1265.7,358.4 1271.7,358.8 1277.7,359.1 1283.7,359.5 1289.7,359.8 1295.7,360.0 1301.7,360.1 1307.7,360.2 1313.7,360.1 1319.7,360.0 1325.7,359.8 1331.7,359.5 1337.7,359.1 1343.7,358.8 1349.7,358.4 1355.7,358.0 1361.7,357.5 1367.7,356.9 1373.7,356.3 1379.7,355.5 1385.7,354.7 1391.7,353.8 1397.7,352.5 1403.7,351.0 1409.7,349.5 1415.7,347.9 1421.7,346.4 1427.7,345.1 1433.7,343.8 1439.7,342.5 1445.7,341.2 1451.7,340.0 1457.7,339.0 1463.7,338.0 1469.7,337.2 1475.7,336.5 1481.7,335.8 1487.7,335.2 1493.7,334.7 1499.7,334.3 1505.7,334.0 1511.7,333.8 1517.7,333.6 1523.7,333.5 1529.7,333.4 1535.7,333.5 1541.7,333.9 1547.7,334.4 1553.7,335.1 1559.7,336.1 1565.7,337.8 1571.7,339.8 1577.7,341.8 1583.7,343.5 1589.7,345.1 1595.7,346.7 1601.7,348.6 1607.7,350.8 1613.7,353.6 1619.7,356.7 1625.7,359.9 1631.7,363.1 1637.7,366.3 1643.7,369.7 1649.7,373.0 1655.7,376.4 1661.7,379.8 1667.7,383.2 1673.7,386.6 1679.7,390.0 1685.7,393.4 1691.7,396.8 1697.7,400.2 1703.7,403.6 1709.7,407.0 1715.7,410.5 1721.7,414.0 1727.7,417.3 1733.7,420.5 1739.7,423.4 1745.7,426.2 1751.7,428.8 1757.7,431.4 1763.7,433.9 1769.7,436.4 1775.7,438.8 1781.7,441.2 1787.7,443.4 1793.7,445.6 1799.7,447.8 1805.7,450.0 1811.7,452.3 1817.7,454.7 1823.7,456.8 1829.7,458.9 1835.7,460.9 1841.7,462.8 1847.7,464.7 1853.7,466.6 1859.7,468.4 1865.7,470.2 1871.7,472.0 1877.7,473.7 1883.7,475.3 1889.7,476.8 1895.7,478.1 1901.7,479.4 1907.7,480.7 1913.7,481.9 1919.7,483.1 1925.7,484.3 1931.7,485.4 1937.7,486.5 1943.7,487.5 1949.7,488.5 1955.7,489.6 1961.7,490.7 1967.7,491.8 1973.7,493.0 1979.7,494.2 1985.7,495.3 1991.7,496.5 1997.7,497.7 2003.7,498.9 2009.7,500.0 2015.7,501.2 2021.7,502.3 2027.7,503.4 2033.7,504.5 2039.7,505.6 2045.7,506.7 2051.7,507.8 2057.7,508.8 2063.7,509.9 2069.7,511.0 2074.0,511.7" fill="none" stroke="#000" stroke-width="1.9" stroke-linejoin="round" stroke-linecap="butt" />
<polyline points="1229.7,354.3 1235.7,355.4 1241.7,356.5 1247.7,357.7 1253.7,358.8 1259.7,360.0 1265.7,361.2 1271.7,362.3 1277.7,363.5 1283.7,364.7 1289.7,365.9 1295.7,367.1 1301.7,368.4 1307.7,369.7 1313.7,371.0 1319.7,372.3 1325.7,373.6 1331.7,374.9 1337.7,376.1 1343.7,377.4 1349.7,378.6 1355.7,379.7 1361.7,380.9 1367.7,382.1 1373.7,383.3 1379.7,384.4 1385.7,385.5 1391.7,386.6 1397.7,387.5 1403.7,388.4 1409.7,389.3 1415.7,390.1 1421.7,391.0 1427.7,391.8 1433.7,392.6 1439.7,393.3 1445.7,394.0 1451.7,394.5 1457.7,395.0 1463.7,395.3 1469.7,395.5 1475.7,395.7 1481.7,395.9 1487.7,396.1 1493.7,396.2 1499.7,396.2 1505.7,396.0 1511.7,395.6 1517.7,395.0 1523.7,394.3 1529.7,393.7 1535.7,392.9 1541.7,392.0 1547.7,391.0 1553.7,389.8 1559.7,388.4 1565.7,386.6 1571.7,384.5 1577.7,382.4 1583.7,380.1 1589.7,377.5 1595.7,374.8 1601.7,372.0 1607.7,369.4 1613.7,366.8 1619.7,364.2 1625.7,361.4 1631.7,358.4 1637.7,355.2 1643.7,352.0 1649.7,349.0 1655.7,346.3 1661.7,343.7 1667.7,341.3 1673.7,339.1 1679.7,337.1 1685.7,334.9 1691.7,333.1 1697.7,332.1 1703.7,332.1 1709.7,332.1 1715.7,332.1 1721.7,332.1 1727.7,332.1 1733.7,332.2 1739.7,333.2 1745.7,334.8 1751.7,336.5 1757.7,338.7 1763.7,341.4 1769.7,344.5 1775.7,348.2 1781.7,352.3 1787.7,356.5 1793.7,360.8 1799.7,365.3 1805.7,370.0 1811.7,374.9 1817.7,380.1 1823.7,385.3 1829.7,390.6 1835.7,395.8 1841.7,400.9 1847.7,405.8 1853.7,410.7 1859.7,415.6 1865.7,420.4 1871.7,425.2 1877.7,429.9 1883.7,434.5 1889.7,439.3 1895.7,444.1 1901.7,448.9 1907.7,453.5 1913.7,457.9 1919.7,461.8 1925.7,465.4 1931.7,468.8 1937.7,471.9 1943.7,474.9 1949.7,477.7 1955.7,480.3 1961.7,482.8 1967.7,485.2 1973.7,487.5 1979.7,489.6 1985.7,491.6 1991.7,493.6 1997.7,495.4 2003.7,497.2 2009.7,498.9 2015.7,500.5 2021.7,502.1 2027.7,503.6 2033.7,505.0 2039.7,506.2 2045.7,507.3 2051.7,508.4 2057.7,509.4 2063.7,510.3 2069.7,511.2 2074.0,511.7" fill="none" stroke="#000" stroke-width="1.9" stroke-linejoin="round" stroke-linecap="butt" />
</g>
<g id="markers" stroke="#000" stroke-width="4.2" stroke-dasharray="12.3 16.03" stroke-linecap="round">
<line x1="1554" y1="149.3" x2="1554" y2="1805"/>
<line x1="1737" y1="173.1" x2="1737" y2="1800.5"/>
</g>
<g id="axes" stroke="#000" stroke-width="5.5" stroke-linecap="butt" shape-rendering="crispEdges">
<rect x="173" y="49" width="5" height="856" fill="#000" stroke="none"/>
<rect x="172" y="905" width="6" height="148" fill="#000" stroke="none"/>
<rect x="172" y="1053" width="5" height="786" fill="#000" stroke="none"/>
<line x1="172" y1="1818" x2="2341.5" y2="1818" stroke-width="6"/>
<line x1="2339.1" y1="1818.0" x2="2339.1" y2="1830.0" stroke-width="5"/>
<line x1="2255.8" y1="1818.0" x2="2255.8" y2="1839.0" stroke-width="5"/>
<line x1="2172.6" y1="1818.0" x2="2172.6" y2="1830.0" stroke-width="5"/>
<line x1="2089.3" y1="1818.0" x2="2089.3" y2="1830.0" stroke-width="5"/>
<line x1="2006.1" y1="1818.0" x2="2006.1" y2="1830.0" stroke-width="5"/>
<line x1="1922.8" y1="1818.0" x2="1922.8" y2="1830.0" stroke-width="5"/>
<line x1="1839.6" y1="1818.0" x2="1839.6" y2="1839.0" stroke-width="5"/>
<line x1="1756.3" y1="1818.0" x2="1756.3" y2="1830.0" stroke-width="5"/>
<line x1="1673.1" y1="1818.0" x2="1673.1" y2="1830.0" stroke-width="5"/>
<line x1="1589.8" y1="1818.0" x2="1589.8" y2="1830.0" stroke-width="5"/>
<line x1="1506.6" y1="1818.0" x2="1506.6" y2="1830.0" stroke-width="5"/>
<line x1="1423.3" y1="1818.0" x2="1423.3" y2="1839.0" stroke-width="5"/>
<line x1="1340.1" y1="1818.0" x2="1340.1" y2="1830.0" stroke-width="5"/>
<line x1="1256.8" y1="1818.0" x2="1256.8" y2="1830.0" stroke-width="5"/>
<line x1="1173.6" y1="1818.0" x2="1173.6" y2="1830.0" stroke-width="5"/>
<line x1="1090.3" y1="1818.0" x2="1090.3" y2="1830.0" stroke-width="5"/>
<line x1="1007.1" y1="1818.0" x2="1007.1" y2="1839.0" stroke-width="5"/>
<line x1="923.9" y1="1818.0" x2="923.9" y2="1830.0" stroke-width="5"/>
<line x1="840.6" y1="1818.0" x2="840.6" y2="1830.0" stroke-width="5"/>
<line x1="757.4" y1="1818.0" x2="757.4" y2="1830.0" stroke-width="5"/>
<line x1="674.1" y1="1818.0" x2="674.1" y2="1830.0" stroke-width="5"/>
<line x1="590.9" y1="1818.0" x2="590.9" y2="1839.0" stroke-width="5"/>
<line x1="507.6" y1="1818.0" x2="507.6" y2="1830.0" stroke-width="5"/>
<line x1="424.4" y1="1818.0" x2="424.4" y2="1830.0" stroke-width="5"/>
<line x1="341.1" y1="1818.0" x2="341.1" y2="1830.0" stroke-width="5"/>
<line x1="257.9" y1="1818.0" x2="257.9" y2="1830.0" stroke-width="5"/>
</g>
<g id="ticklabels">
<text transform="translate(2256.3,1895.5) scale(1,1.05)" font-size="63" text-anchor="middle">705</text>
<text transform="translate(1840.1,1895.5) scale(1,1.05)" font-size="63" text-anchor="middle">710</text>
<text transform="translate(1423.8,1895.5) scale(1,1.05)" font-size="63" text-anchor="middle">715</text>
<text transform="translate(1007.6,1895.5) scale(1,1.05)" font-size="63" text-anchor="middle">720</text>
<text transform="translate(591.4,1895.5) scale(1,1.05)" font-size="63" text-anchor="middle">725</text>
<text transform="translate(175.1,1895.5) scale(1,1.05)" font-size="63" text-anchor="middle">730</text>
</g>
<text transform="translate(1281.8,2012.5)" font-size="91.75" text-anchor="middle">Binding energy (eV)</text>
<text transform="translate(94.0,874.5) rotate(-90)" font-size="91.75" text-anchor="middle">Counts per second (a.u.)</text>
<g id="labels">
<text transform="translate(204.2,164.0) scale(1,1.015)" font-size="91" text-anchor="start">(D)</text>
<text transform="translate(204.2,631.6) scale(1,1.015)" font-size="91" text-anchor="start">(C)</text>
<text transform="translate(213.2,1066.6) scale(1,1.015)" font-size="91" text-anchor="start">(B)</text>
<text transform="translate(209.2,1428.6) scale(1,1.015)" font-size="91" text-anchor="start">(A)</text>
</g>
<text transform="translate(509.0,145.0) scale(1,1.015)" font-size="76.5" text-anchor="start">Fe 2p<tspan font-size="45" dx="-0.5" dy="29.2">1/2</tspan></text>
<text transform="translate(1524.0,84.0) scale(1,1.015)" font-size="76.5" text-anchor="start">Fe 2p<tspan font-size="45" dx="-1" dy="29.5">3/2</tspan></text>
<text transform="translate(1425.0,270.8) scale(1,1.02)" font-size="62" text-anchor="start">Fe<tspan font-size="37" dx="-2.5" dy="-33.3">3+</tspan></text>
<text transform="translate(1808.0,319.8) scale(1,1.02)" font-size="62" text-anchor="start">Fe<tspan font-size="37" dx="-2.5" dy="-33.0">2+</tspan></text>
</g>
</svg>
</body>
</html>
